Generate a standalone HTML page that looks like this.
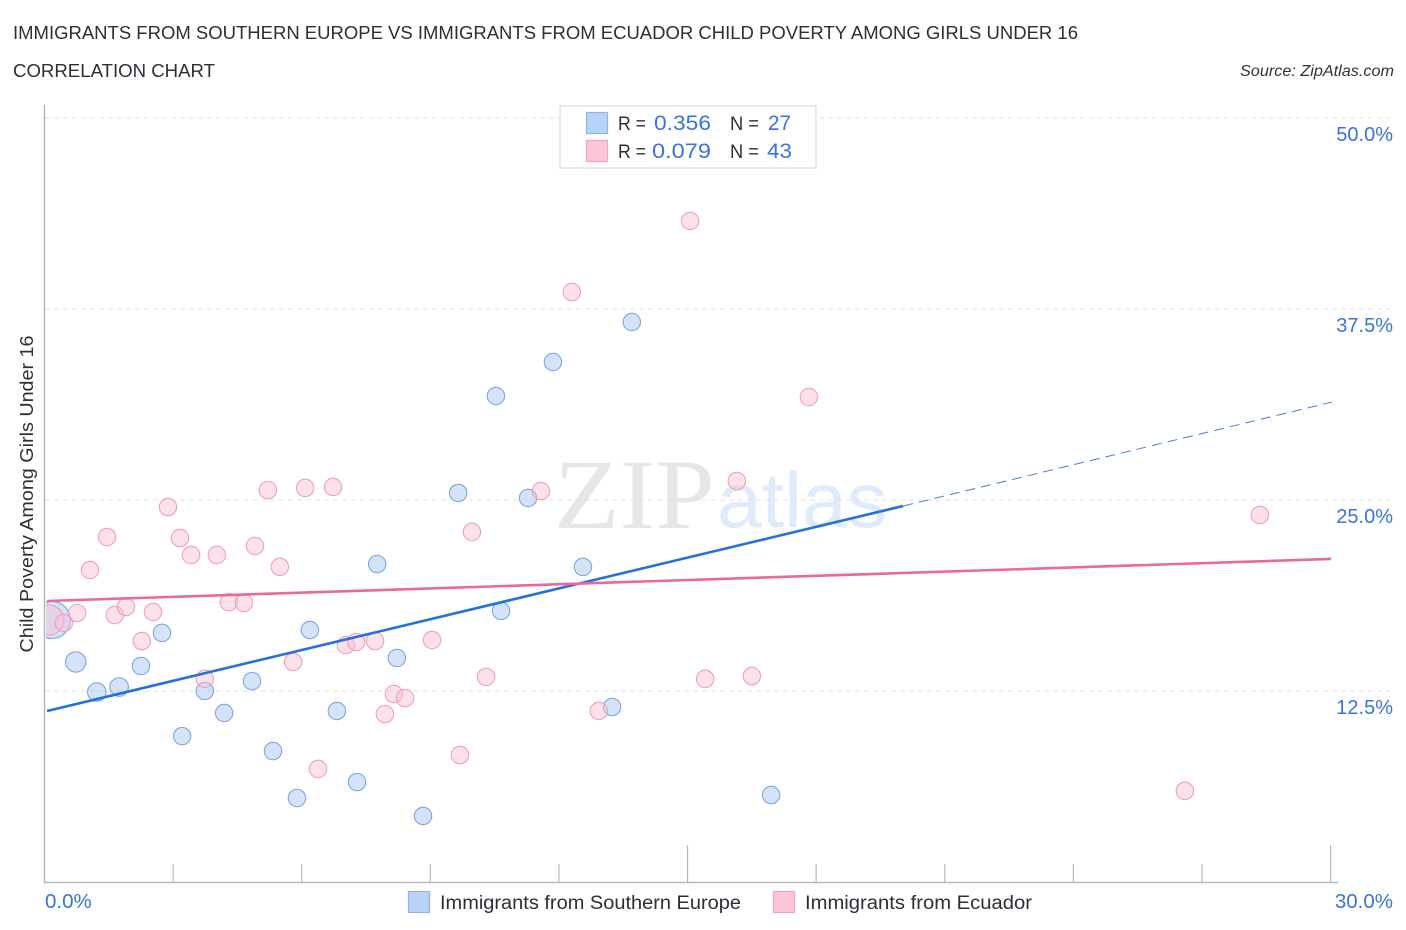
<!DOCTYPE html>
<html lang="en">
<head>
<meta charset="utf-8">
<title>Immigrants from Southern Europe vs Immigrants from Ecuador Child Poverty Correlation Chart</title>
<style>
html,body{margin:0;padding:0;background:#fff;width:1406px;height:930px;overflow:hidden}
svg{display:block}
text{font-family:"Liberation Sans",sans-serif}
</style>
</head>
<body>
<svg id="chart" width="1406" height="930" viewBox="0 0 1406 930" xmlns="http://www.w3.org/2000/svg">
  <defs><clipPath id="plot-clip"><rect x="46" y="100" width="1360" height="782"/></clipPath></defs>
  <rect width="1406" height="930" fill="#fff"/>
  <text x="13" y="39" font-size="18.5" fill="#2b2f36" textLength="1065" lengthAdjust="spacingAndGlyphs">IMMIGRANTS FROM SOUTHERN EUROPE VS IMMIGRANTS FROM ECUADOR CHILD POVERTY AMONG GIRLS UNDER 16</text>
  <text x="13" y="77" font-size="18.5" fill="#2b2f36" textLength="202" lengthAdjust="spacingAndGlyphs">CORRELATION CHART</text>
  <text x="1394" y="76" font-size="15.5" font-style="italic" fill="#333" text-anchor="end" textLength="154" lengthAdjust="spacingAndGlyphs">Source: ZipAtlas.com</text>

  <text x="554" y="528" font-size="100" fill="#e6e6e6" style="font-family:'Liberation Serif',serif" textLength="161" lengthAdjust="spacingAndGlyphs">ZIP</text>
  <text x="717" y="527" font-size="78" fill="#dfeafa" textLength="170" lengthAdjust="spacingAndGlyphs">atlas</text>

  <g id="grid-layer"></g>
  <g id="axis-layer"></g>
  <g id="point-layer" clip-path="url(#plot-clip)"></g>
  <g id="trend-layer"></g>

  <text transform="translate(33,494) rotate(-90)" font-size="18" fill="#2b2f36" text-anchor="middle" textLength="317" lengthAdjust="spacingAndGlyphs">Child Poverty Among Girls Under 16</text>

  <g>
    <rect x="560" y="106" width="256" height="62" fill="#fff" stroke="#dcdcdc" stroke-width="1.2"/>
    <rect x="586.5" y="112.5" width="21" height="21" fill="#b9d3f7" stroke="#8fb4ea" stroke-width="1.2"/>
    <rect x="586.5" y="140.5" width="21" height="21" fill="#fcc5d8" stroke="#f2a4bf" stroke-width="1.2"/>
    <text x="618" y="130" font-size="19" fill="#2b2f36" textLength="28" lengthAdjust="spacingAndGlyphs">R =</text>
    <text x="654" y="130" font-size="21" fill="#3a74d4" textLength="57" lengthAdjust="spacingAndGlyphs">0.356</text>
    <text x="730" y="130" font-size="19" fill="#2b2f36" textLength="29" lengthAdjust="spacingAndGlyphs">N =</text>
    <text x="768" y="130" font-size="21" fill="#3a74d4" textLength="23" lengthAdjust="spacingAndGlyphs">27</text>
    <text x="618" y="158" font-size="19" fill="#2b2f36" textLength="28" lengthAdjust="spacingAndGlyphs">R =</text>
    <text x="652" y="158" font-size="21" fill="#3a74d4" textLength="59" lengthAdjust="spacingAndGlyphs">0.079</text>
    <text x="730" y="158" font-size="19" fill="#2b2f36" textLength="29" lengthAdjust="spacingAndGlyphs">N =</text>
    <text x="767" y="158" font-size="21" fill="#3a74d4" textLength="25" lengthAdjust="spacingAndGlyphs">43</text>
  </g>

  <g>
    <g>
      <rect x="408.5" y="891.5" width="21" height="21" fill="#b9d3f7" stroke="#8fb4ea" stroke-width="1.2"/>
      <text x="440" y="909" font-size="19" fill="#2b2f36" textLength="301" lengthAdjust="spacingAndGlyphs">Immigrants from Southern Europe</text>
    </g>
    <g>
      <rect x="773.5" y="891.5" width="21" height="21" fill="#fcc5d8" stroke="#f2a4bf" stroke-width="1.2"/>
      <text x="805" y="909" font-size="19" fill="#2b2f36" textLength="227" lengthAdjust="spacingAndGlyphs">Immigrants from Ecuador</text>
    </g>
  </g>
</svg>
<script>
const yTickValues = [12.5, 25, 37.5, 50];
const yTickLabels = ["12.5%", "25.0%", "37.5%", "50.0%"];
const xTickValues = [0, 3, 6, 9, 12, 15, 18, 21, 24, 27, 30];
const xEndLabels = ["0.0%", "30.0%"];

const europeX = [0.17,0.73,1.22,1.74,2.25,2.74,3.21,3.74,4.19,4.84,5.33,5.89,6.19,6.82,7.29,7.76,8.22,8.83,9.65,10.53,10.65,11.28,11.86,12.56,13.24,13.70,16.95];
const europeY = [17.15,14.40,12.43,12.76,14.14,16.30,9.55,12.50,11.06,13.15,8.57,5.50,16.49,11.19,6.54,20.81,14.66,4.32,25.46,31.81,17.74,25.13,34.03,20.62,11.45,36.65,5.69];
const europeWeight = [3.2,1.75,1.6,1.6,1.5,1.5,1.5,1.5,1.5,1.5,1.5,1.5,1.5,1.5,1.5,1.5,1.5,1.5,1.5,1.5,1.5,1.5,1.5,1.5,1.5,1.5,1.5];

const ecuadorX = [0.10,0.45,0.76,1.06,1.46,1.64,1.90,2.27,2.53,2.88,3.16,3.42,3.74,4.02,4.30,4.65,4.91,5.21,5.49,5.80,6.08,6.38,6.73,7.03,7.27,7.71,7.94,8.15,8.41,9.04,9.69,9.97,10.30,11.58,12.30,12.93,15.06,15.41,16.15,16.50,17.83,26.60,28.35];
const ecuadorY = [17.15,16.95,17.60,20.42,22.58,17.47,18.00,15.77,17.67,24.54,22.51,21.40,13.29,21.40,18.32,18.26,21.99,25.65,20.62,14.40,25.79,7.40,25.85,15.51,15.71,15.77,10.99,12.30,12.04,15.84,8.31,22.91,13.42,25.59,38.61,11.19,43.26,13.29,26.24,13.48,31.74,5.96,24.02];
const ecuadorWeight = [2.6,1.5,1.5,1.5,1.5,1.5,1.5,1.5,1.5,1.5,1.5,1.5,1.5,1.5,1.5,1.5,1.5,1.5,1.5,1.5,1.5,1.5,1.5,1.5,1.5,1.5,1.5,1.5,1.5,1.5,1.5,1.5,1.5,1.5,1.5,1.5,1.5,1.5,1.5,1.5,1.5,1.5,1.5];

const europeTrendSolidX = [0.06, 20.03];
const europeTrendSolidY = [11.19, 24.61];
const europeTrendDashX = [20.03, 30.03];
const europeTrendDashY = [24.61, 31.41];
const ecuadorTrendX = [0.06, 30.01];
const ecuadorTrendY = [18.39, 21.14];

const NS = "http://www.w3.org/2000/svg";
const xScale = v => 44.5 + v * 42.87;
const yScale = v => 882 - v * 15.28;
const pointRadius = w => w * 5.8;

function make(tag, parent, attrs) {
  const el = document.createElementNS(NS, tag);
  for (const k in attrs) el.setAttribute(k, attrs[k]);
  parent.appendChild(el);
  return el;
}

const gridLayer = document.getElementById("grid-layer");
const axisLayer = document.getElementById("axis-layer");
const pointLayer = document.getElementById("point-layer");
const trendLayer = document.getElementById("trend-layer");

yTickValues.forEach((v, i) => {
  const line = make("line", gridLayer, {x1: 45, x2: 1393, y1: yScale(v), y2: yScale(v), stroke: "#e2e2e2", "stroke-width": 1, "stroke-dasharray": "5 4"});
  
  
  const label = make("text", axisLayer, {x: 1393, y: yScale(v) + 23, "font-size": 20, fill: "#3a74d4", "text-anchor": "end"});
  
  
  label.textContent = yTickLabels[i];
});

const yAxis = make("line", axisLayer, {x1: 44.5, x2: 44.5, y1: 105, y2: 883, stroke: "#b0b0b0", "stroke-width": 1.3});


const xAxis = make("line", axisLayer, {x1: 44, x2: 1338, y1: 882.5, y2: 882.5, stroke: "#b8b8b8", "stroke-width": 1.4});



xTickValues.forEach(v => {
  if (v === 0) return;
  const tall = v === 15 || v === 30;
  const tick = make("line", axisLayer, {x1: xScale(v), x2: xScale(v), y1: tall ? 845 : 864, y2: 882, stroke: "#b8b8b8", "stroke-width": 1.2});
  
  
});

const xLabelLeft = make("text", axisLayer, {x: 45, y: 908, "font-size": 20.5, fill: "#3a74d4"});


xLabelLeft.textContent = xEndLabels[0];
const xLabelRight = make("text", axisLayer, {x: 1393, y: 908, "font-size": 20.5, fill: "#3a74d4", "text-anchor": "end"});


xLabelRight.textContent = xEndLabels[1];

europeX.forEach((v, i) => {
  const c = make("circle", pointLayer, {cx: xScale(v), cy: yScale(europeY[i]), r: pointRadius(europeWeight[i]), fill: "#a9c8f2", "fill-opacity": 0.5, stroke: "#7ba6e4", "stroke-width": 1.1});
  
  
});

ecuadorX.forEach((v, i) => {
  const c = make("circle", pointLayer, {cx: xScale(v), cy: yScale(ecuadorY[i]), r: pointRadius(ecuadorWeight[i]), fill: "#f9bcd2", "fill-opacity": 0.45, stroke: "#eea0bb", "stroke-width": 1.1});
  
  
});

const europeSolid = make("line", trendLayer, {x1: xScale(europeTrendSolidX[0]), y1: yScale(europeTrendSolidY[0]), x2: xScale(europeTrendSolidX[1]), y2: yScale(europeTrendSolidY[1]), stroke: "#2272d9", "stroke-width": 2.6});


const europeDash = make("line", trendLayer, {x1: xScale(europeTrendDashX[0]), y1: yScale(europeTrendDashY[0]), x2: xScale(europeTrendDashX[1]), y2: yScale(europeTrendDashY[1]), stroke: "#4d7fc9", "stroke-width": 1, "stroke-dasharray": "10 6"});


const ecuadorLine = make("line", trendLayer, {x1: xScale(ecuadorTrendX[0]), y1: yScale(ecuadorTrendY[0]), x2: xScale(ecuadorTrendX[1]), y2: yScale(ecuadorTrendY[1]), stroke: "#e9699a", "stroke-width": 2.6});


</script>
</body>
</html>
